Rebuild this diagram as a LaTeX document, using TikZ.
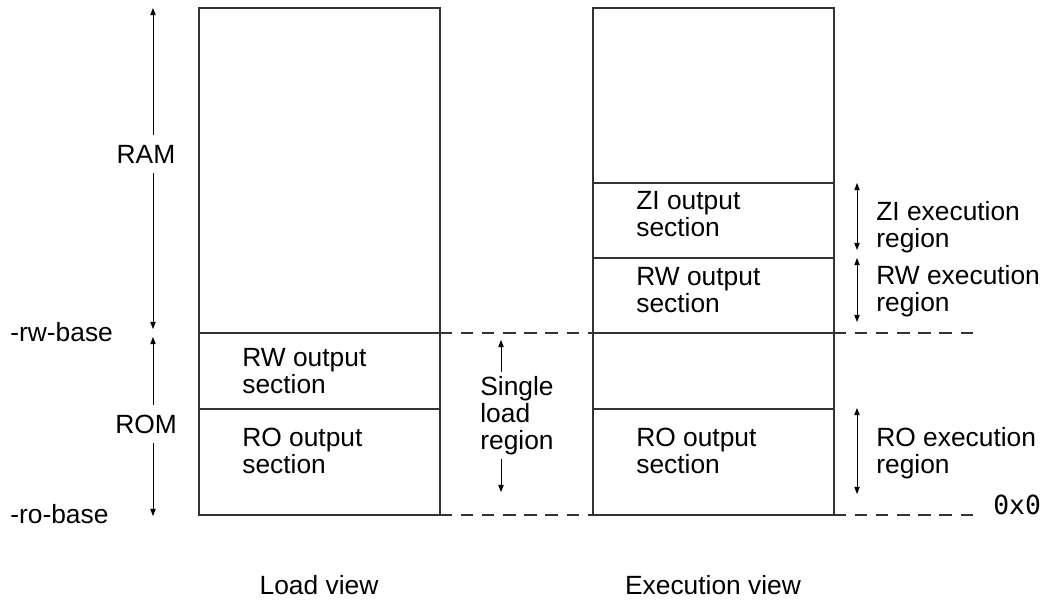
\documentclass[tikz,border=0pt]{standalone}
\usepackage{fontspec}
\setmainfont{Liberation Sans}
\newfontfamily\monofont{DejaVu Sans Mono}
\usetikzlibrary{arrows.meta}
\begin{document}
\begin{tikzpicture}[x=0.02cm,y=-0.02cm,
  box/.style={draw=black!80, line width=0.6pt},
  guide/.style={draw=black!80, line width=0.6pt, dash pattern=on 7pt off 5pt},
  dim/.style={line width=0.5pt, {Triangle[length=4pt,width=3pt]}-{Triangle[length=4pt,width=3pt]}},
  onearr/.style={line width=0.5pt, -{Triangle[length=4pt,width=3pt]}},
  lbl/.style={font=\fontsize{15}{15.3}\selectfont, align=left, inner sep=0pt, anchor=west},
  clbl/.style={font=\fontsize{15}{15.3}\selectfont, align=center, inner sep=0pt},
  memlbl/.style={font=\fontsize{15}{15.3}\selectfont, fill=white, inner xsep=1pt, inner ysep=5.5pt}]
\useasboundingbox (0,0) rectangle (1048,600);
% load view box
\draw[box] (199,8) rectangle (440,515);
\draw[box] (199,333) -- (440,333);
\draw[box] (199,409) -- (440,409);
% execution view box
\draw[box] (593,8) rectangle (834,515);
\foreach \yy in {183,258,333,409} \draw[box] (593,\yy) -- (834,\yy);
% dashed guides
\coordinate (lrw) at (440,333); \coordinate (erwl) at (593,333);
\coordinate (erwr) at (834,333); \coordinate (rwend) at (978,333);
\coordinate (lro) at (440,515); \coordinate (erol) at (593,515);
\coordinate (eror) at (834,515); \coordinate (roend) at (978,515);
\draw[guide] (lrw) -- (erwl);
\draw[guide] (erwr) -- (rwend);
\draw[guide] (lro) -- (erol);
\draw[guide] (eror) -- (roend);
% left dimension arrows
\coordinate (ramt) at (153,8); \coordinate (ramb) at (153,329);
\coordinate (romt) at (153,337); \coordinate (romb) at (153,516);
\draw[dim] (ramt) -- (ramb);
\draw[dim] (romt) -- (romb);
\node[memlbl] (ram) at (146,154) {RAM};
\node[memlbl] (rom) at (146,424) {ROM};
\node[lbl] (rwbase) at (10,332) {-rw-base};
\node[lbl] (robase) at (10,514) {-ro-base};
% single load region
\coordinate (slt) at (501,340); \coordinate (slt2) at (501,372);
\coordinate (slb) at (501,492); \coordinate (slb2) at (501,459);
\draw[onearr] (slt2) -- (slt);
\draw[onearr] (slb2) -- (slb);
\node[lbl] (single) at (480,416) {Single\\load\\region};
% box texts
\node[lbl] (lrwt) at (242,371) {RW output\\section};
\node[lbl] (lrot) at (242,451) {RO output\\section};
\node[lbl] (zit) at (636,214) {ZI output\\section};
\node[lbl] (erwt) at (636,290) {RW output\\section};
\node[lbl] (erot) at (636,451) {RO output\\section};
% right dimension arrows
\coordinate (zit1) at (857,183); \coordinate (zib1) at (857,250);
\coordinate (rwt1) at (857,258); \coordinate (rwb1) at (857,322);
\coordinate (rot1) at (857,408); \coordinate (rob1) at (857,494);
\draw[dim] (zit1) -- (zib1);
\draw[dim] (rwt1) -- (rwb1);
\draw[dim] (rot1) -- (rob1);
\node[lbl] (zil) at (876,227) {ZI execution\\region};
\node[lbl] (rwl) at (876,291) {RW execution\\region};
\node[lbl] (rol) at (876,453) {RO execution\\region};
\node[anchor=west, inner sep=0pt, font=\monofont\fontsize{15}{15.3}\selectfont] (zero) at (993,505) {0x0};
% captions
\node[clbl] (loadv) at (319,585) {Load view};
\node[clbl] (execv) at (713,585) {Execution view};
\end{tikzpicture}
\end{document}
